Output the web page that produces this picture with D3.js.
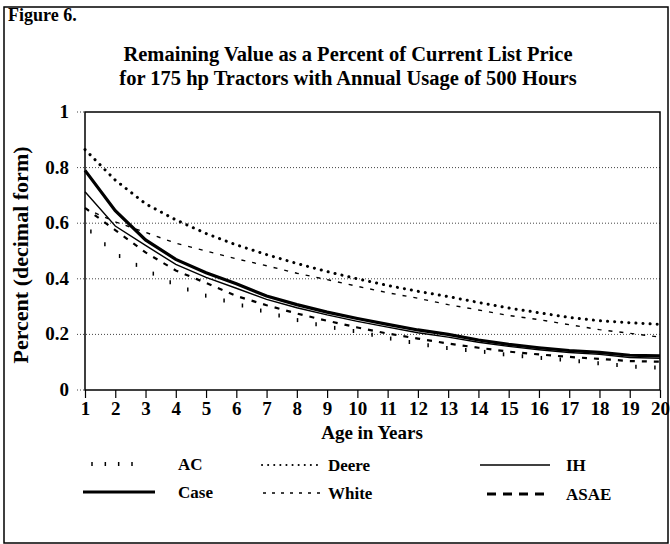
<!DOCTYPE html>
<html>
<head>
<meta charset="utf-8">
<script src="https://cdn.jsdelivr.net/npm/d3@7"></script>
<style>
body { margin: 0; background: #fff; }
svg text { font-family: "Liberation Serif", "Times New Roman", serif; font-weight: bold; fill: #000; }
</style>
</head>
<body>
<svg id="chart"></svg>
<script>
// age in years (x categories)
var years = [1, 2, 3, 4, 5, 6, 7, 8, 9, 10, 11, 12, 13, 14, 15, 16, 17, 18, 19, 20];
var yTicks = [0, 0.2, 0.4, 0.6, 0.8, 1];

// remaining value, decimal form
var ac    = [0.59, 0.49, 0.433, 0.377, 0.339, 0.31, 0.28, 0.252, 0.228, 0.21, 0.187, 0.167, 0.15, 0.14, 0.126, 0.116, 0.107, 0.096, 0.085, 0.08];
var caseV = [0.79, 0.645, 0.54, 0.47, 0.422, 0.382, 0.338, 0.307, 0.28, 0.257, 0.236, 0.216, 0.2, 0.18, 0.164, 0.152, 0.142, 0.135, 0.125, 0.123];
var deere = [0.865, 0.755, 0.67, 0.612, 0.563, 0.522, 0.487, 0.455, 0.426, 0.4, 0.376, 0.355, 0.336, 0.315, 0.295, 0.278, 0.261, 0.249, 0.242, 0.236];
var white = [0.653, 0.605, 0.567, 0.528, 0.5, 0.472, 0.447, 0.42, 0.397, 0.373, 0.35, 0.33, 0.307, 0.288, 0.268, 0.253, 0.235, 0.217, 0.204, 0.19];
var ih    = [0.713, 0.59, 0.52, 0.452, 0.405, 0.366, 0.326, 0.296, 0.27, 0.247, 0.226, 0.206, 0.19, 0.172, 0.157, 0.145, 0.135, 0.128, 0.117, 0.114];
var asae  = [0.655, 0.575, 0.495, 0.43, 0.385, 0.338, 0.305, 0.275, 0.249, 0.225, 0.203, 0.185, 0.167, 0.152, 0.138, 0.128, 0.119, 0.112, 0.104, 0.102];

var W = 670, H = 544;
var svg = d3.select("#chart").attr("width", W).attr("height", H);

var x = d3.scaleLinear().domain([1, 20]).range([85, 660]);
var y = d3.scaleLinear().domain([0, 1]).range([390, 112]);

// outer frame
svg.append("rect")
    .attr("x", 4).attr("y", 7)
    .attr("width", 664).attr("height", 536)
    .attr("fill", "none").attr("stroke", "#000").attr("stroke-width", 1.5);

svg.append("text").attr("x", 8).attr("y", 21)
    .style("font-size", "18px").text("Figure 6.");

svg.append("text").attr("x", 348).attr("y", 61)
    .attr("text-anchor", "middle").style("font-size", "20.5px")
    .text("Remaining Value as a Percent of Current List Price");
svg.append("text").attr("x", 348).attr("y", 85)
    .attr("text-anchor", "middle").style("font-size", "20.5px")
    .text("for 175 hp Tractors with Annual Usage of 500 Hours");

/* dotted grid, starting a bit left of the axis */
svg.append("g").selectAll("line")
    .data(yTicks)
    .enter().append("line")
    .attr("x1", 77)
    .attr("x2", function (d) { return (d == 0 || d == 1) ? 85 : 660; })
    .attr("y1", function (d) { return y(d); })
    .attr("y2", function (d) { return y(d); })
    .attr("stroke", "#444")
    .attr("stroke-width", 1)
    .attr("stroke-dasharray", "1,2");

// y labels
svg.append("g").selectAll("text")
    .data(yTicks)
    .enter().append("text")
    .attr("x", 69)
    .attr("y", function (d) { return y(d) + 6; })
    .attr("text-anchor", "end")
    .style("font-size", "19px")
    .text(function (d) { return (d == 0 || d == 1) ? String(d) : d3.format(".1f")(d); });

// x axis
var xAxis = svg.append("g")
    .attr("transform", "translate(0,390)")
    .call(d3.axisBottom(x).tickValues(years).tickSize(8).tickPadding(4).tickFormat(d3.format("d")));
xAxis.select(".domain").remove();
xAxis.selectAll("line").attr("stroke", "#000").attr("stroke-width", 1.2);
xAxis.selectAll("text")
    .style("font-size", "19px")
    .style("font-family", "Liberation Serif, serif")
    .style("font-weight", "bold");

svg.append("text").attr("x", 372).attr("y", 439)
    .attr("text-anchor", "middle").style("font-size", "19px")
    .text("Age in Years");

svg.append("text")
    .attr("transform", "translate(28,255) rotate(-90)")
    .attr("text-anchor", "middle").style("font-size", "22px")
    .text("Percent (decimal form)");

/* series */
var series = [
    { name: "AC", values: ac, width: 1.5, dash: null, ticks: true },
    { name: "Case", values: caseV, width: 3.2, dash: null },
    { name: "Deere", values: deere, width: 3, dash: "0.1,7", round: true },
    { name: "White", values: white, width: 1.4, dash: "4,7" },
    { name: "IH", values: ih, width: 1.4, dash: null },
    { name: "ASAE", values: asae, width: 2.2, dash: "5,7" }
];

var line = d3.line()
    .x(function (d, i) { return x(years[i]); })
    .y(function (d) { return y(d); });

var plot = svg.append("g");

series.forEach(function (s) {
    var p = plot.append("path")
        .attr("d", line(s.values))
        .attr("fill", "none")
        .attr("stroke", s.ticks ? "none" : "#000")
        .attr("stroke-width", s.width)
        .attr("stroke-dasharray", s.dash)
        .attr("stroke-linecap", s.round ? "round" : "butt");

    //AC is drawn as small upright ticks along its curve
    if (s.ticks) {
        var node = p.node();
        var len = node.getTotalLength();
        for (var l = 8; l < len; l += 19) {
            var pt = node.getPointAtLength(l);
            plot.append("line")
                .attr("x1", pt.x).attr("x2", pt.x)
                .attr("y1", pt.y - 2).attr("y2", pt.y + 2)
                .attr("stroke", "#000").attr("stroke-width", s.width);
        }
    }
});

// plot frame
svg.append("rect")
    .attr("x", 85).attr("y", 112)
    .attr("width", 575).attr("height", 278)
    .attr("fill", "none").attr("stroke", "#000").attr("stroke-width", 1.5);

/* legend */
var legendPos = [
    { sx: 92, ex: 132, tx: 178, ty: 470 },
    { sx: 83, ex: 155, tx: 178, ty: 498 },
    { sx: 262, ex: 322, tx: 328, ty: 471 },
    { sx: 263, ex: 322, tx: 328, ty: 499 },
    { sx: 480, ex: 550, tx: 566, ty: 471 },
    { sx: 487, ex: 550, tx: 566, ty: 500 }
];

var legend = svg.append("g");
series.forEach(function (s, i) {
    var lp = legendPos[i];
    var ly = lp.ty - 6;
    if (s.ticks) {
        for (var k = 0; k < 4; k++) {
            var tx = lp.sx + k * (lp.ex - lp.sx) / 3;
            legend.append("line")
                .attr("x1", tx).attr("x2", tx)
                .attr("y1", ly - 2).attr("y2", ly + 2)
                .attr("stroke", "#000").attr("stroke-width", 1.5);
        }
    } else {
        legend.append("line")
            .attr("x1", lp.sx).attr("x2", lp.ex)
            .attr("y1", ly).attr("y2", ly)
            .attr("stroke", "#000")
            .attr("stroke-width", s.name == "ASAE" ? 3 : (s.name == "Deere" ? 2 : s.width))
            .attr("stroke-dasharray", s.name == "ASAE" ? "9,7" : (s.name == "Deere" ? "0.1,6" : (s.name == "White" ? "3,6" : null)))
            .attr("stroke-linecap", s.round ? "round" : "butt");
    }
    legend.append("text")
        .attr("x", lp.tx).attr("y", lp.ty)
        .style("font-size", "17px")
        .text(s.name);
});
</script>
</body>
</html>
